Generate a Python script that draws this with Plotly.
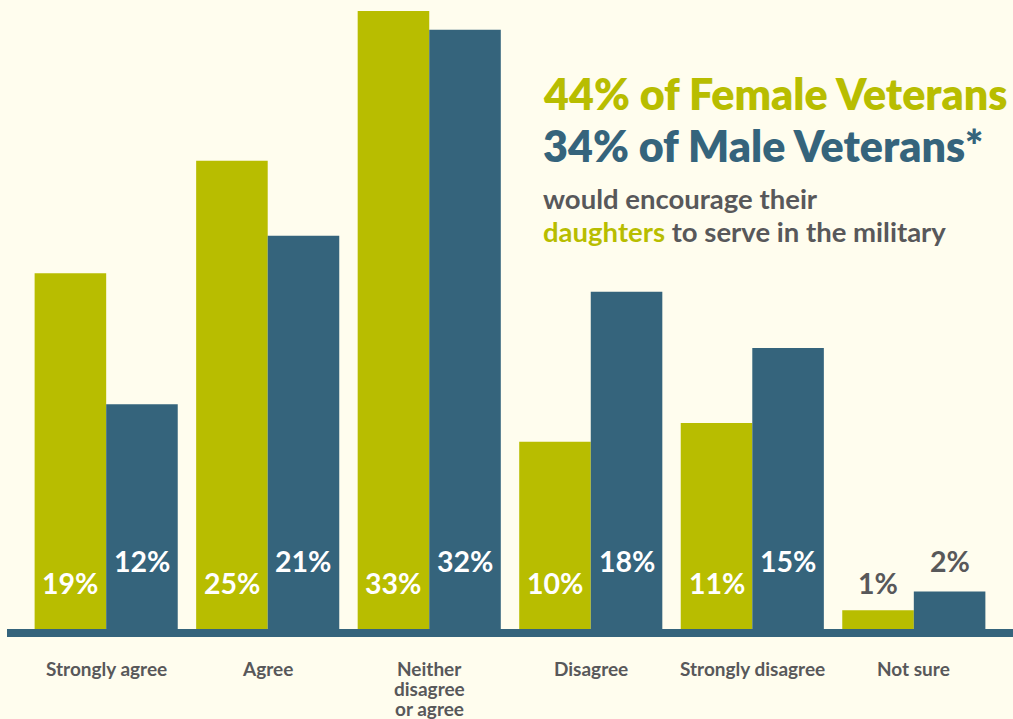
import plotly.graph_objects as go

categories = ["Strongly agree", "Agree", "Neither<br>disagree<br>or agree", "Disagree", "Strongly disagree", "Not sure"]
female = [19, 25, 33, 10, 11, 1]
male = [12, 21, 32, 18, 15, 2]

GREEN = "#b8bd00"
BLUE = "#35647c"
GRAY = "#58585a"
BG = "#fffdee"
FONT = "Lato"

W, H = 1013, 719
ML, MR, MT, MB = 7, 0, 0, 90
PH = H - MT - MB

x_idx = list(range(len(categories)))

fig = go.Figure()
fig.add_trace(go.Bar(x=x_idx, y=female, name="Female", marker=dict(color=GREEN, line=dict(width=0)), hoverinfo="skip"))
fig.add_trace(go.Bar(x=x_idx, y=male, name="Male", marker=dict(color=BLUE, line=dict(width=0)), hoverinfo="skip"))


def py(px):
    return (MT + PH - px) / PH


off = 0.2214
ann = []
for i, (f, m) in enumerate(zip(female, male)):
    inside_f = f >= 5
    inside_m = m >= 5
    ann.append(dict(x=i - off, y=2.46, xref="x", yref="y", text=f"{f}%", showarrow=False,
                    font=dict(family=FONT, size=28.5, color="white" if inside_f else GRAY, weight=700),
                    xanchor="center", yanchor="middle"))
    ann.append(dict(x=i + off, y=3.63, xref="x", yref="y", text=f"{m}%", showarrow=False,
                    font=dict(family=FONT, size=28.5, color="white" if inside_m else GRAY, weight=700),
                    xanchor="center", yanchor="middle"))

# category labels (lines placed individually for tight spacing)
for i, cat in enumerate(categories):
    for j, line in enumerate(cat.split("<br>")):
        ann.append(dict(x=i, y=py(668 + 20 * j), xref="x", yref="paper", text=line, showarrow=False,
                        font=dict(family=FONT, size=19, color=GRAY, weight=700),
                        xanchor="center", yanchor="middle"))

hx = (541 - ML) / (W - ML - MR)
ann.append(dict(x=hx, y=py(94), xref="paper", yref="paper", xanchor="left", yanchor="middle", showarrow=False,
                text="44% of Female Veterans", font=dict(family=FONT, size=43, color=GREEN, weight=800)))
ann.append(dict(x=hx, y=py(145), xref="paper", yref="paper", xanchor="left", yanchor="middle", showarrow=False,
                text="34% of Male Veterans*", font=dict(family=FONT, size=43, color=BLUE, weight=800)))
ann.append(dict(x=hx, y=py(198), xref="paper", yref="paper", xanchor="left", yanchor="middle", showarrow=False,
                text="would encourage their", font=dict(family=FONT, size=27.5, color=GRAY, weight=700)))
ann.append(dict(x=hx, y=py(231), xref="paper", yref="paper", xanchor="left", yanchor="middle", showarrow=False,
                text=f"<span style='color:{GREEN}'>daughters</span> to serve in the military",
                font=dict(family=FONT, size=27.5, color=GRAY, weight=700)))

fig.update_layout(
    width=W, height=H,
    margin=dict(l=ML, r=MR, t=MT, b=MB, pad=0),
    paper_bgcolor=BG, plot_bgcolor=BG,
    barmode="group", bargap=0.114, bargroupgap=0,
    showlegend=False,
    annotations=ann,
    shapes=[dict(type="rect", xref="paper", yref="paper", x0=0, x1=1, y0=-8 / PH, y1=0,
                 fillcolor=BLUE, line=dict(width=0), layer="above")],
    xaxis=dict(range=[-0.614, 5.614], tickmode="array", tickvals=x_idx, showticklabels=False,
               showgrid=False, zeroline=False, showline=False, ticks=""),
    yaxis=dict(range=[0, PH / 18.73], visible=False, showgrid=False, zeroline=False),
)

fig.write_html(
    "out.html",
    config={"displayModeBar": False},
    post_script=(
        "document.body.style.margin='0';"
        "document.body.style.padding='0';"
        "document.body.style.overflow='hidden';"
        f"document.body.style.background='{BG}';"
    ),
)
